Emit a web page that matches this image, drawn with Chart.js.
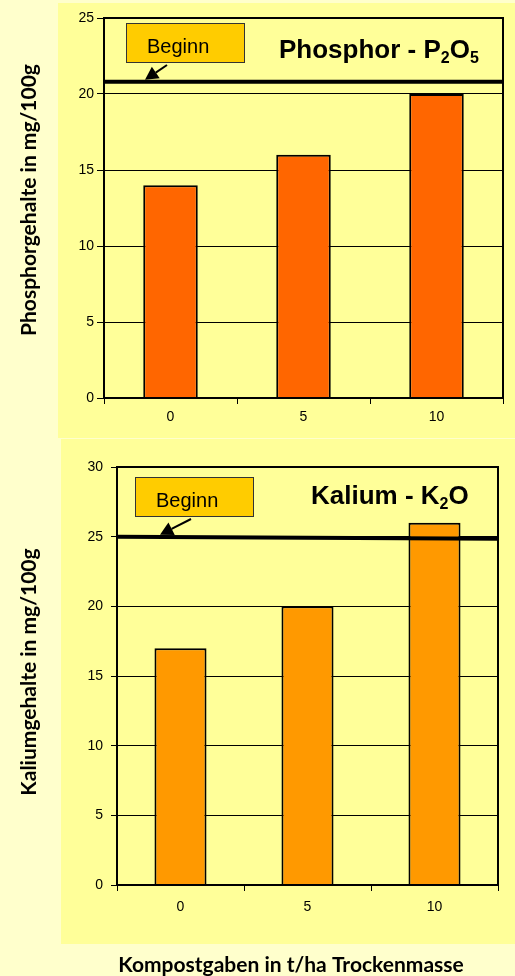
<!DOCTYPE html>
<html>
<head>
<meta charset="utf-8">
<script src="https://cdn.jsdelivr.net/npm/chart.js@4.4.1/dist/chart.umd.min.js"></script>
<style>
  html, body { margin: 0; padding: 0; }
  body { width: 515px; height: 976px; background: #FFFFCC; position: relative; overflow: hidden; }
  .panel { position: absolute; background: #FFFF99; }
  canvas { position: absolute; left: 0; }
</style>
</head>
<body>
<div class="panel" style="left:58px; top:3px; width:457px; height:435px;"></div>
<div class="panel" style="left:61px; top:439px; width:454px; height:505px;"></div>
<canvas id="phosphor" width="515" height="438" style="top:0;"></canvas>
<canvas id="kalium" width="515" height="538" style="top:438px;"></canvas>
<script>
// Kompostgaben (t/ha Trockenmasse)
const doses = ['0', '5', '10'];

// Nährstoffgehalte in mg/100g
const phosphorValues = [14, 16, 20];
const kaliumValues = [17, 20, 26];

// Ausgangswert zu Versuchsbeginn (linker / rechter Rand)
const phosphorStart = [20.8, 20.8];
const kaliumStart = [25.0, 24.85];

// Achsenbeschriftung
const phosphorTicks = [0, 5, 10, 15, 20, 25];
const kaliumTicks = [0, 5, 10, 15, 20, 25, 30];

const SANS = '"Liberation Sans", Arial, sans-serif';
const TITLE_FONT = 'Lato, "Open Sans", sans-serif';

function drawRich(ctx, parts, x, y, size) {
  ctx.textAlign = 'left';
  ctx.textBaseline = 'alphabetic';
  for (const p of parts) {
    const s = p.sub ? Math.round(size * 0.62) : size;
    ctx.font = `bold ${s}px ${SANS}`;
    ctx.fillText(p.t, x, y + (p.sub ? size * 0.2 : 0));
    x += ctx.measureText(p.t).width;
  }
}

function drawArrow(ctx, x0, y0, x1, y1) {
  const ang = Math.atan2(y1 - y0, x1 - x0);
  const len = 13, half = 7;
  const bx = x1 - len * Math.cos(ang), by = y1 - len * Math.sin(ang);
  ctx.strokeStyle = '#000';
  ctx.lineWidth = 2;
  ctx.beginPath();
  ctx.moveTo(x0, y0);
  ctx.lineTo(bx, by);
  ctx.stroke();
  ctx.fillStyle = '#000';
  ctx.beginPath();
  ctx.moveTo(x1, y1);
  ctx.lineTo(bx + half * Math.sin(ang), by - half * Math.cos(ang));
  ctx.lineTo(bx - half * Math.sin(ang), by + half * Math.cos(ang));
  ctx.closePath();
  ctx.fill();
}

// Rahmen, Titel, "Beginn"-Hinweis und Achsentitel
const decor = {
  id: 'decor',
  afterDatasetsDraw(chart, args, o) {
    const { ctx, chartArea: a, scales } = chart;
    ctx.save();
    ctx.strokeStyle = '#000';
    ctx.lineWidth = 2;
    ctx.strokeRect(a.left, a.top, a.right - a.left, a.bottom - a.top);

    // Hinweisbox mit Pfeil auf die Ausgangslinie
    const bx = a.left + o.box.dx, by = a.top + o.box.dy, bw = 119, bh = 40;
    ctx.fillStyle = '#FFCC00';
    ctx.fillRect(bx, by, bw, bh);
    ctx.lineWidth = 1;
    ctx.strokeStyle = '#333';
    ctx.strokeRect(bx + 0.5, by + 0.5, bw - 1, bh - 1);
    ctx.fillStyle = '#000';
    ctx.font = `20px ${SANS}`;
    ctx.textAlign = 'left';
    ctx.textBaseline = 'alphabetic';
    ctx.fillText('Beginn', bx + 21, by + 30);
    const tipY = scales.y.getPixelForValue(o.arrowValue) - 2;
    drawArrow(ctx, bx + o.box.tail, by + bh + 2, bx + o.box.tip, tipY);

    // Diagrammtitel mit tiefgestellten Ziffern
    ctx.fillStyle = '#000';
    drawRich(ctx, o.title, a.left + o.titleDx, a.top + o.titleDy, 26);

    // Achsentitel
    ctx.font = `bold ${o.axisFont}px ${TITLE_FONT}`;
    ctx.textAlign = 'center';
    ctx.textBaseline = 'middle';
    ctx.save();
    ctx.translate(o.yTitle.x, o.yTitle.y);
    ctx.rotate(-Math.PI / 2);
    ctx.fillText(o.yTitle.text, 0, 0);
    ctx.restore();
    if (o.xTitle) {
      ctx.textBaseline = 'alphabetic';
      ctx.fillText(o.xTitle.text, o.xTitle.x, o.xTitle.y);
    }
    ctx.restore();
  }
};

function makeChart(id, cfg) {
  return new Chart(document.getElementById(id), {
    type: 'bar',
    data: {
      labels: doses,
      datasets: [
        {
          type: 'line',
          data: cfg.start.map((v, i) => ({ x: i, y: v })),
          xAxisID: 'x2',
          borderColor: '#000',
          borderWidth: 4,
          pointRadius: 0,
          order: 0,
          clip: 4
        },
        {
          data: cfg.values,
          backgroundColor: cfg.color,
          borderColor: '#000',
          borderWidth: 2,
          barPercentage: 0.41,
          categoryPercentage: 1,
          grouped: false,
          order: 1
        }
      ]
    },
    options: {
      responsive: false,
      animation: false,
      layout: { padding: { top: cfg.padTop, right: cfg.padRight, left: 0, bottom: 0 } },
      plugins: {
        legend: { display: false },
        tooltip: { enabled: false },
        decor: cfg.decor
      },
      scales: {
        x: {
          type: 'category',
          offset: true,
          grid: { offset: true, drawOnChartArea: false, drawTicks: true, tickLength: 6, color: '#000', lineWidth: 1 },
          border: { display: true, color: '#000', width: 2 },
          ticks: { color: '#000', font: { family: SANS, size: 14 }, padding: cfg.xPad, maxRotation: 0 },
          afterFit: s => { s.height = cfg.xHeight; }
        },
        x2: { type: 'linear', min: 0, max: 1, display: false, offset: false, grid: { offset: false } },
        y: {
          min: 0,
          max: cfg.ticks[cfg.ticks.length - 1],
          afterBuildTicks: s => { s.ticks = cfg.ticks.map(v => ({ value: v })); },
          grid: { color: '#000', lineWidth: 1, drawTicks: true, tickLength: cfg.yTick },
          border: { display: true, color: '#000', width: 2 },
          ticks: { color: '#000', font: { family: SANS, size: 14 }, padding: cfg.yPad },
          afterFit: s => { s.width = cfg.yWidth; }
        }
      }
    },
    plugins: [decor]
  });
}

makeChart('phosphor', {
  values: phosphorValues,
  start: phosphorStart,
  ticks: phosphorTicks,
  color: '#FF6600',
  padTop: 18, padRight: 12, yWidth: 104, xHeight: 40,
  yTick: 7, yPad: 3, xPad: 5,
  decor: {
    box: { dx: 22, dy: 5, tail: 41, tip: 19 },
    arrowValue: phosphorStart[0],
    title: [{ t: 'Phosphor - P' }, { t: '2', sub: true }, { t: 'O' }, { t: '5', sub: true }],
    titleDx: 175, titleDy: 40,
    axisFont: 21,
    yTitle: { text: 'Phosphorgehalte in mg/100g', x: 29, y: 200 }
  }
});

makeChart('kalium', {
  values: kaliumValues,
  start: kaliumStart,
  ticks: kaliumTicks,
  color: '#FF9900',
  padTop: 29, padRight: 17, yWidth: 117, xHeight: 91,
  yTick: 6, yPad: 8, xPad: 8,
  decor: {
    box: { dx: 18, dy: 10, tail: 56, tip: 25 },
    arrowValue: kaliumStart[0],
    title: [{ t: 'Kalium - K' }, { t: '2', sub: true }, { t: 'O' }],
    titleDx: 194, titleDy: 37,
    axisFont: 21,
    yTitle: { text: 'Kaliumgehalte in mg/100g', x: 29, y: 234 },
    xTitle: { text: 'Kompostgaben in t/ha Trockenmasse', x: 291, y: 534 }
  }
});
</script>
</body>
</html>
